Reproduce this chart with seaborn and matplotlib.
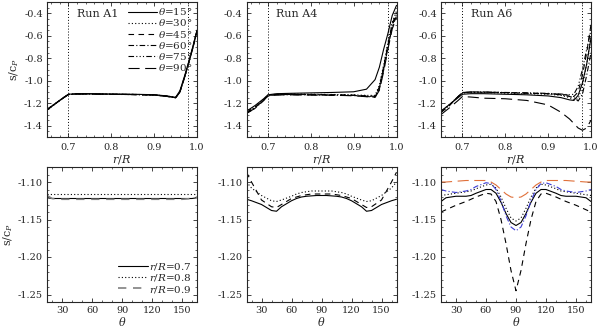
import numpy as np
import pandas as pd
import seaborn as sns
import matplotlib.pyplot as plt
from matplotlib.ticker import MultipleLocator, FormatStrFormatter

# radius grid for the top row
r = [0.65, 0.67, 0.69, 0.70, 0.72, 0.75, 0.80, 0.85, 0.90, 0.93, 0.95, 0.96, 0.97, 0.98, 0.99, 1.00]
thetas = [15, 30, 45, 60, 75, 90]

# Run A1, s/c_P vs r/R
a1_15 = [-1.255, -1.200, -1.145, -1.120, -1.115, -1.115, -1.118, -1.120, -1.124, -1.135, -1.148, -1.090, -0.970, -0.840, -0.700, -0.550]
a1_30 = [-1.256, -1.201, -1.146, -1.121, -1.116, -1.116, -1.119, -1.121, -1.125, -1.136, -1.149, -1.095, -0.975, -0.845, -0.705, -0.555]
a1_45 = [-1.257, -1.202, -1.147, -1.122, -1.117, -1.117, -1.120, -1.122, -1.126, -1.137, -1.150, -1.098, -0.978, -0.848, -0.708, -0.558]
a1_60 = [-1.258, -1.203, -1.147, -1.122, -1.117, -1.117, -1.120, -1.122, -1.127, -1.138, -1.151, -1.100, -0.980, -0.850, -0.710, -0.560]
a1_75 = [-1.258, -1.203, -1.148, -1.123, -1.118, -1.118, -1.121, -1.123, -1.127, -1.139, -1.152, -1.102, -0.982, -0.852, -0.712, -0.562]
a1_90 = [-1.259, -1.204, -1.148, -1.123, -1.118, -1.118, -1.121, -1.123, -1.128, -1.139, -1.152, -1.103, -0.983, -0.853, -0.713, -0.563]

# Run A4
a4_15 = [-1.270, -1.220, -1.160, -1.125, -1.115, -1.112, -1.108, -1.104, -1.098, -1.075, -0.990, -0.880, -0.720, -0.580, -0.420, -0.330]
a4_30 = [-1.275, -1.230, -1.165, -1.128, -1.120, -1.118, -1.120, -1.122, -1.125, -1.130, -1.130, -1.040, -0.860, -0.660, -0.480, -0.380]
a4_45 = [-1.280, -1.235, -1.170, -1.130, -1.122, -1.120, -1.122, -1.125, -1.128, -1.135, -1.138, -1.055, -0.875, -0.675, -0.495, -0.395]
a4_60 = [-1.285, -1.240, -1.170, -1.132, -1.124, -1.122, -1.124, -1.126, -1.130, -1.138, -1.142, -1.065, -0.890, -0.690, -0.510, -0.410]
a4_75 = [-1.290, -1.245, -1.175, -1.134, -1.125, -1.124, -1.126, -1.128, -1.132, -1.140, -1.145, -1.075, -0.905, -0.705, -0.525, -0.425]
a4_90 = [-1.290, -1.245, -1.175, -1.135, -1.126, -1.125, -1.127, -1.129, -1.133, -1.142, -1.148, -1.085, -0.920, -0.720, -0.540, -0.440]

# Run A6
a6_15 = [-1.270, -1.210, -1.150, -1.120, -1.115, -1.115, -1.120, -1.125, -1.135, -1.150, -1.170, -1.175, -1.130, -1.020, -0.850, -0.620]
a6_30 = [-1.275, -1.210, -1.140, -1.110, -1.105, -1.105, -1.110, -1.115, -1.120, -1.130, -1.150, -1.170, -1.160, -1.050, -0.850, -0.600]
a6_45 = [-1.280, -1.220, -1.140, -1.105, -1.100, -1.100, -1.105, -1.110, -1.115, -1.120, -1.130, -1.140, -1.100, -0.950, -0.750, -0.500]
a6_60 = [-1.280, -1.215, -1.140, -1.105, -1.100, -1.102, -1.106, -1.110, -1.115, -1.125, -1.140, -1.150, -1.180, -1.120, -0.950, -0.750]
a6_75 = [-1.280, -1.215, -1.140, -1.105, -1.100, -1.100, -1.104, -1.108, -1.112, -1.118, -1.125, -1.120, -1.050, -0.900, -0.720, -0.550]
a6_90 = [-1.300, -1.240, -1.175, -1.140, -1.145, -1.155, -1.160, -1.175, -1.215, -1.280, -1.340, -1.380, -1.420, -1.440, -1.420, -1.350]

# latitude grid for the bottom row
theta = [15, 20, 30, 40, 45, 50, 60, 65, 70, 75, 80, 85, 90, 95, 100, 105, 110, 115, 120, 130, 135, 140, 150, 160, 165]

# Run A1, s/c_P vs theta
b1_07 = [-1.121, -1.122, -1.122, -1.122, -1.122, -1.122, -1.122, -1.122, -1.122, -1.122, -1.122, -1.122, -1.122,
         -1.122, -1.122, -1.122, -1.122, -1.122, -1.122, -1.122, -1.122, -1.122, -1.122, -1.122, -1.121]
b1_08 = [-1.116, -1.116, -1.116, -1.116, -1.116, -1.116, -1.116, -1.116, -1.116, -1.116, -1.116, -1.116, -1.116,
         -1.116, -1.116, -1.116, -1.116, -1.116, -1.116, -1.116, -1.116, -1.116, -1.116, -1.116, -1.116]
b1_09 = [-1.118, -1.122, -1.123, -1.123, -1.123, -1.123, -1.123, -1.123, -1.123, -1.123, -1.123, -1.123, -1.123,
         -1.123, -1.123, -1.123, -1.123, -1.123, -1.123, -1.123, -1.123, -1.123, -1.123, -1.122, -1.120]

# Run A4
b4_07 = [-1.123, -1.125, -1.130, -1.138, -1.139, -1.133, -1.125, -1.122, -1.120, -1.119, -1.1185, -1.118, -1.118,
         -1.118, -1.1185, -1.119, -1.120, -1.122, -1.125, -1.133, -1.139, -1.138, -1.130, -1.125, -1.123]
b4_08 = [-1.100, -1.108, -1.118, -1.125, -1.126, -1.124, -1.119, -1.116, -1.114, -1.113, -1.112, -1.112, -1.112,
         -1.112, -1.112, -1.113, -1.114, -1.116, -1.119, -1.124, -1.126, -1.125, -1.118, -1.108, -1.100]
b4_09 = [-1.087, -1.100, -1.124, -1.133, -1.134, -1.130, -1.122, -1.120, -1.118, -1.117, -1.116, -1.116, -1.116,
         -1.116, -1.116, -1.117, -1.118, -1.120, -1.122, -1.130, -1.134, -1.133, -1.124, -1.100, -1.087]

# Run A6
b6_07 = [-1.126, -1.121, -1.119, -1.119, -1.118, -1.115, -1.110, -1.110, -1.115, -1.127, -1.142, -1.154, -1.158,
         -1.154, -1.142, -1.127, -1.115, -1.110, -1.110, -1.115, -1.118, -1.119, -1.119, -1.121, -1.126]
b6_08 = [-1.118, -1.117, -1.115, -1.113, -1.112, -1.109, -1.104, -1.103, -1.108, -1.120, -1.135, -1.148, -1.152,
         -1.148, -1.135, -1.120, -1.108, -1.103, -1.104, -1.109, -1.112, -1.113, -1.115, -1.117, -1.118]
b6_09 = [-1.140, -1.137, -1.131, -1.126, -1.123, -1.120, -1.115, -1.116, -1.126, -1.150, -1.182, -1.218, -1.245,
         -1.218, -1.182, -1.150, -1.126, -1.116, -1.115, -1.120, -1.123, -1.126, -1.131, -1.137, -1.140]
b6_blue = [-1.110, -1.112, -1.114, -1.112, -1.110, -1.106, -1.101, -1.102, -1.110, -1.125, -1.145, -1.160, -1.165,
           -1.160, -1.145, -1.125, -1.110, -1.102, -1.101, -1.106, -1.110, -1.112, -1.114, -1.112, -1.110]
b6_orange = [-1.100, -1.100, -1.099, -1.098, -1.098, -1.098, -1.098, -1.100, -1.104, -1.110, -1.116, -1.120, -1.121,
             -1.120, -1.116, -1.110, -1.104, -1.100, -1.098, -1.098, -1.098, -1.098, -1.099, -1.100, -1.100]

sns.set_theme(style="ticks")
plt.rcParams['font.family'] = ['DejaVu Serif']
plt.rcParams['mathtext.fontset'] = 'dejavuserif'
plt.rcParams.update({
    'xtick.direction': 'in', 'ytick.direction': 'in',
    'xtick.top': True, 'ytick.right': True,
    'xtick.labelsize': 7, 'ytick.labelsize': 7,
    'xtick.major.size': 3, 'ytick.major.size': 3,
    'xtick.minor.size': 1.5, 'ytick.minor.size': 1.5,
    'xtick.major.width': 0.6, 'ytick.major.width': 0.6,
    'xtick.minor.width': 0.5, 'ytick.minor.width': 0.5,
    'xtick.major.pad': 4, 'ytick.major.pad': 3,
    'axes.linewidth': 0.8,
})

theta_styles = ['-', (0, (1, 2)), (0, (5, 4)), (0, (5, 2, 1, 2)), (0, (5, 2, 1, 2, 1, 2, 1, 2)), (0, (10, 5))]

fig = plt.figure(figsize=(6.0, 3.28), dpi=100)
W, H = 600.0, 328.0
lefts = [47, 246.5, 441]

top_runs = [("Run A1", [a1_15, a1_30, a1_45, a1_60, a1_75, a1_90]),
            ("Run A4", [a4_15, a4_30, a4_45, a4_60, a4_75, a4_90]),
            ("Run A6", [a6_15, a6_30, a6_45, a6_60, a6_75, a6_90])]

for i, (name, curves) in enumerate(top_runs):
    ax = fig.add_axes([lefts[i] / W, (H - 137) / H, 150 / W, 135 / H])
    handles = []
    for th, vals, ls in zip(thetas, curves, theta_styles):
        sns.lineplot(x=r, y=vals, ax=ax, color='black', linewidth=0.8, linestyle=ls, legend=False)
        ln = ax.lines[-1]
        ln.set_label(r'$\theta$=%d°' % th)
        handles.append(ln)
    ax.axvline(0.70, color='black', linestyle=(0, (1, 2)), linewidth=0.7)
    ax.axvline(0.98, color='black', linestyle=(0, (1, 2)), linewidth=0.7)
    ax.set_xlim(0.65, 1.0)
    ax.set_ylim(-1.5, -0.3)
    ax.xaxis.set_major_locator(MultipleLocator(0.1))
    ax.xaxis.set_minor_locator(MultipleLocator(0.02))
    ax.yaxis.set_major_locator(MultipleLocator(0.2))
    ax.yaxis.set_minor_locator(MultipleLocator(0.05))
    ax.xaxis.set_major_formatter(FormatStrFormatter('%.1f'))
    ax.yaxis.set_major_formatter(FormatStrFormatter('%.1f'))
    ax.set_xlabel('$r/R$', fontsize=8, labelpad=1)
    if i == 0:
        ax.set_ylabel('s/c$_P$', fontsize=8, labelpad=2)
    ax.text(0.2, 0.91, name, transform=ax.transAxes, fontsize=8, va='center')
    if i == 0:
        ax.legend(handles=handles, loc='upper right', frameon=False, fontsize=7.5,
                  handlelength=2.8, handletextpad=0.15, labelspacing=0.02,
                  borderaxespad=0.2, borderpad=0.2)

bottom_runs = [[b1_07, b1_08, b1_09], [b4_07, b4_08, b4_09], [b6_07, b6_08, b6_09]]
r_styles = ['-', (0, (1, 2)), (0, (5, 4))]
r_labels = ['$r/R$=0.7', '$r/R$=0.8', '$r/R$=0.9']

for i, curves in enumerate(bottom_runs):
    ax = fig.add_axes([lefts[i] / W, (H - 302) / H, 150 / W, 135 / H])
    handles = []
    for j, (vals, ls, lab) in enumerate(zip(curves, r_styles, r_labels)):
        col = 'gray' if (j == 2 and i == 0) else 'black'
        lw = 1.2 if (j == 2 and i == 0) else 0.8
        sns.lineplot(x=theta, y=vals, ax=ax, color=col, linewidth=lw, linestyle=ls, legend=False)
        ln = ax.lines[-1]
        ln.set_label(lab)
        handles.append(ln)
    if i == 2:
        sns.lineplot(x=theta, y=b6_blue, ax=ax, color='#3b3bd6', linewidth=0.8,
                     linestyle=(0, (5, 2, 1, 2)), legend=False)
        sns.lineplot(x=theta, y=b6_orange, ax=ax, color='#e0703a', linewidth=0.8,
                     linestyle=(0, (10, 5)), legend=False)
    ax.set_xlim(15, 165)
    ax.set_ylim(-1.26, -1.08)
    ax.xaxis.set_major_locator(MultipleLocator(30))
    ax.xaxis.set_minor_locator(MultipleLocator(10))
    ax.yaxis.set_major_locator(MultipleLocator(0.05))
    ax.yaxis.set_minor_locator(MultipleLocator(0.01))
    ax.yaxis.set_major_formatter(FormatStrFormatter('%.2f'))
    ax.tick_params(axis='x', pad=3)
    ax.set_xlabel(r'$\theta$', fontsize=8, labelpad=0)
    if i == 0:
        ax.set_ylabel('s/c$_P$', fontsize=8, labelpad=2)
        ax.legend(handles=handles, loc='lower right', frameon=False, fontsize=7.5,
                  handlelength=2.8, handletextpad=0.15, labelspacing=0.02,
                  borderaxespad=0.0, borderpad=0.2, bbox_to_anchor=(0.98, 0.04))

fig.savefig('out.png', dpi=100)
